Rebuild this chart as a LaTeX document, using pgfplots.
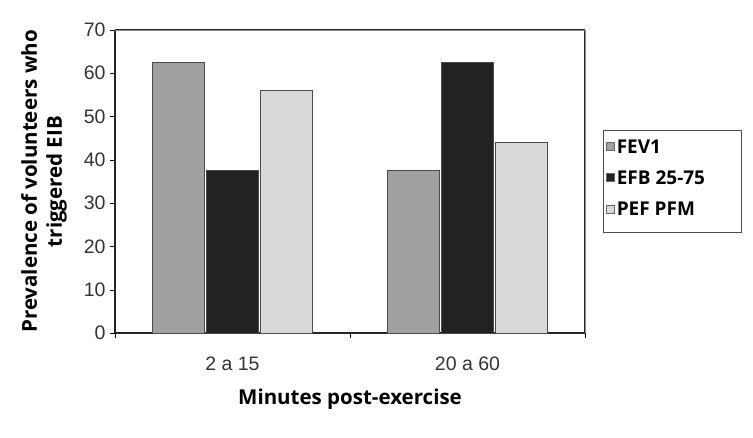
\documentclass[border=0pt]{standalone}
\usepackage{pgfplots}
\pgfplotsset{compat=1.18}
\usepackage{fontspec}
\setmainfont{Liberation Sans}
\newfontfamily\labelfont{Open Sans}
\definecolor{cA}{HTML}{A0A0A0}
\definecolor{cB}{HTML}{222222}
\definecolor{cC}{HTML}{D9D9D9}
\begin{document}
\begin{tikzpicture}[x=1pt,y=1pt]
\path (0,0) rectangle (753,438);
\begin{axis}[
  at={(115pt,105pt)}, anchor=south west,
  scale only axis, width=470pt, height=303pt,
  clip=false,
  ybar, bar width=52pt,
  ymin=0, ymax=70, ytick={0,10,...,70},
  xmin=-0.5, xmax=1.5,
  xtick={0,1}, xticklabels={2 a 15, 20 a 60},
  minor xtick={-0.5,0.5,1.5},
  major tick length=5pt, minor tick length=5pt,
  major x tick style={draw=none},
  minor x tick style={black},
  ytick style={black},
  tick align=outside, tick pos=left,
  /pgf/number format/assume math mode=true,
  tick label style={font=\fontsize{19.5}{22}\selectfont, text=black!80},
  yticklabel style={xshift=-1pt},
  xticklabel style={yshift=-15pt},
  separate axis lines,
  y axis line style={black!85, line width=1.2pt},
  x axis line style={black!85, line width=1.2pt},
  ylabel={Prevalence of volunteers who\\triggered EIB},
  ylabel style={align=center, font=\labelfont\bfseries\fontsize{20.5}{25}\selectfont, at={(-0.095,0.5)}, anchor=south},
  xlabel={Minutes post-exercise},
  xlabel style={font=\labelfont\bfseries\fontsize{20.5}{24}\selectfont, yshift=-12pt},
  legend style={at={(1.0383,0.667)}, anchor=north west, draw=none, fill=none,
    font=\labelfont\bfseries\fontsize{19}{22}\selectfont, row sep=12pt, inner xsep=3pt, inner ysep=7pt,
    /tikz/every even column/.append style={column sep=0pt}},
  legend image code/.code={\draw[#1, draw=black!60, line width=0.6pt] (0pt,-3pt) rectangle (8pt,5pt);},
  legend cell align=left,
]
\addplot[fill=cA, draw=black!70, line width=0.6pt] coordinates {(0,62.5) (1,37.5)};
\addplot[fill=cB, draw=black!70, line width=0.6pt] coordinates {(0,37.5) (1,62.5)};
\addplot[fill=cC, draw=black!70, line width=0.6pt] coordinates {(0,56) (1,44)};
\legend{FEV1, EFB 25-75, PEF PFM}
\draw[black!45, line width=0.6pt] (rel axis cs:0,1) -- (rel axis cs:1,1) -- (rel axis cs:1,0);
\draw[black!70, line width=1pt] (rel axis cs:1.0383,0.6667) rectangle (rel axis cs:1.334,0.3333);
\end{axis}
\end{tikzpicture}
\end{document}
